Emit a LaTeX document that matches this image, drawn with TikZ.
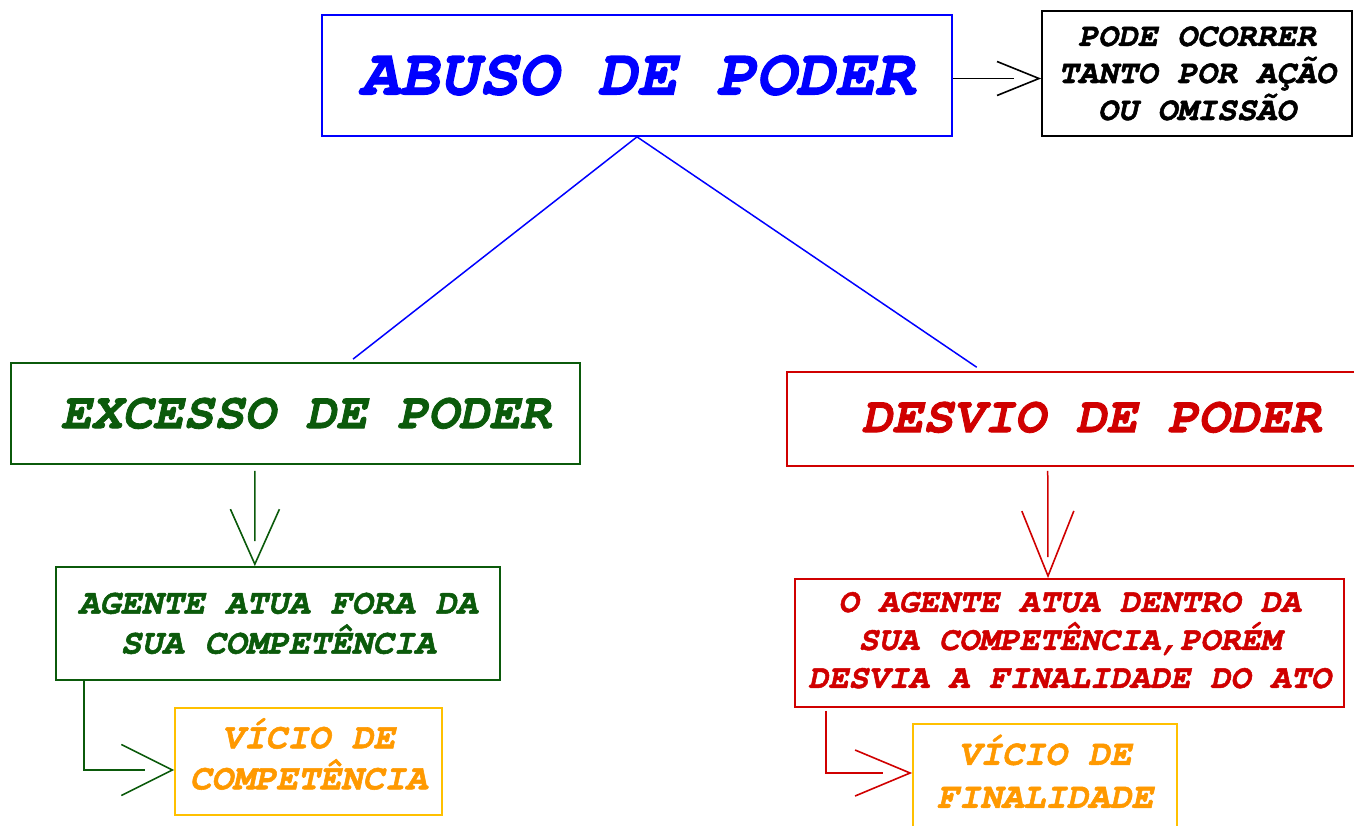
\documentclass[tikz,border=0pt]{standalone}
\usepackage[T1]{fontenc}
\usetikzlibrary{arrows.meta,calc,decorations.markings}
\definecolor{cblue}{HTML}{0000FF}
\definecolor{cgreen}{HTML}{0B5A0B}
\definecolor{cred}{HTML}{D00000}
\definecolor{corange}{HTML}{FF9900}
\definecolor{cgold}{HTML}{FFC000}
\newcommand{\cour}{\fontfamily{pcr}\bfseries\slshape}
\newcommand{\fb}[1]{\special{pdf:literal direct 2 Tr #1 w}}
\newcommand{\dn}[1]{\rule[-#1pt]{0pt}{#1pt}}
\begin{document}
\begin{tikzpicture}[x=1pt,y=-1pt,
  box/.style={draw, line width=1.7pt, inner sep=0pt, align=center},
  conn/.style={line width=1.5pt},
  barb/.style n args={3}{shorten >=#3pt, postaction={decorate, decoration={markings,
      mark=at position 1 with {\arrow[line width=1.6pt]{Straight Barb[length=#1pt,width=#2pt]}}}}}
]
\useasboundingbox (0,0) rectangle (1354,825);

\node[box, draw=cblue, text=cblue, minimum width=630pt, minimum height=121pt,
      font=\cour\fontsize{66}{70}\selectfont] (abuso) at (637,75.5) {\fb{1.1}ABUSO DE PODER};
\node[box, draw=black, text=black, minimum width=310pt, minimum height=125pt,
      font=\cour\fontsize{33}{37}\selectfont] (pode) at (1197,73.5) {\fb{0.5}PODE OCORRER\\TANTO POR A\c{C}\~AO\\OU OMISS\~AO};
\node[box, draw=cgreen, text=cgreen, minimum width=569pt, minimum height=101pt,
      font=\cour\fontsize{51}{56}\selectfont] (excesso) at (295.5,413.5) {\fb{0.8}\hspace*{20pt}EXCESSO DE PODER};
\node[box, draw=cred, text=cred, minimum width=608pt, minimum height=94pt,
      font=\cour\fontsize{51}{56}\selectfont] (desvio) at (1091,419) {\fb{0.8}DESVIO DE PODER\dn{4}};
\node[box, draw=cgreen, text=cgreen, minimum width=444pt, minimum height=113pt,
      font=\cour\fontsize{35}{40}\selectfont] (agente) at (278,623.5) {\fb{0.55}AGENTE ATUA FORA DA\\SUA COMPET\^ENCIA};
\node[box, draw=cgold, text=corange, minimum width=267pt, minimum height=107pt,
      font=\cour\fontsize{36}{41}\selectfont] (viciocomp) at (308.5,761.5) {\fb{0.55}V\'ICIO DE\\COMPET\^ENCIA\dn{14}};
\node[box, draw=cred, text=cred, minimum width=549pt, minimum height=128pt,
      font=\cour\fontsize{33.5}{38}\selectfont] (oagente) at (1069.5,643) {\fb{0.5}O AGENTE ATUA DENTRO DA\\SUA COMPET\^ENCIA,POR\'EM\\DESVIA A FINALIDADE DO ATO\dn{6}};
\node[box, draw=cgold, text=corange, minimum width=264pt, minimum height=106pt,
      font=\cour\fontsize{36}{43}\selectfont] (viciofin) at (1045,777) {\fb{0.55}V\'ICIO DE\\FINALIDADE\dn{10}};

% blue branches
\draw[conn, cblue, shorten >=5pt] (abuso.south) -- ($(excesso.north west)!0.594!(excesso.north east)$);
\draw[conn, cblue, shorten >=7pt] (abuso.south) -- ($(desvio.north west)!0.322!(desvio.north east)$);

% right arrow
\draw[conn, black, barb={42}{34}{27}] ([yshift=-3pt]abuso.east) -- ([yshift=-3pt]abuso.east -| pode.west);

% green down arrow
\draw[conn, cgreen, shorten <=6pt, barb={55}{49}{25}]
  ($(excesso.south west)!0.429!(excesso.south east)$) -- ($(agente.north west)!0.448!(agente.north east)$);
% green elbow
\draw[conn, cgreen, barb={51}{51}{29}]
  ($(agente.south west)+(29,0)$) |- ([yshift=-8.5pt]viciocomp.west);

% red down arrow
\draw[conn, cred, shorten <=4pt, barb={65}{52}{21}]
  ($(desvio.south west)!0.429!(desvio.south east)$) -- ($(oagente.north west)!0.461!(oagente.north east)$);
% red elbow
\draw[conn, cred, shorten <=3pt, barb={55}{46}{29}]
  ($(oagente.south west)+(32,0)$) |- ([yshift=4pt]viciofin.west);
\end{tikzpicture}
\end{document}
